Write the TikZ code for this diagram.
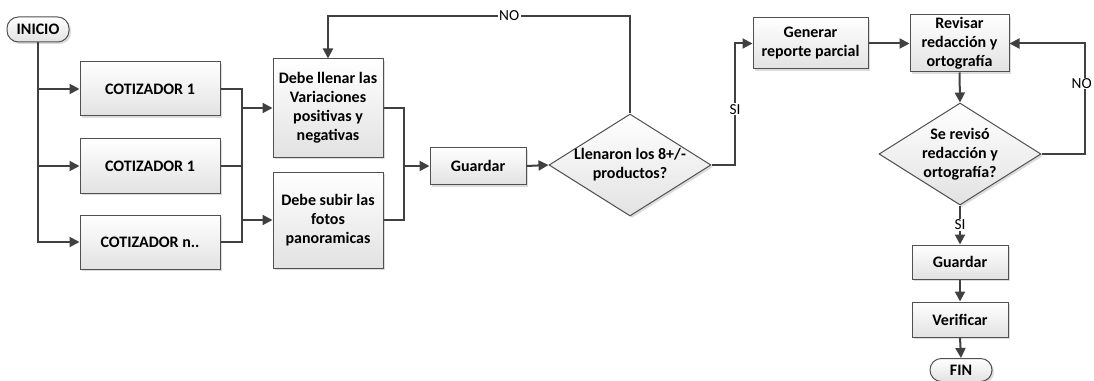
\documentclass[tikz,border=0pt]{standalone}
\usepackage{fontspec}
\setmainfont{Carlito}
\usetikzlibrary{shapes.geometric,arrows.meta,shadows}
\definecolor{linecol}{HTML}{404040}
\definecolor{bordercol}{HTML}{505050}
\definecolor{fillbot}{HTML}{E2E2E2}
\tikzset{
  boxbase/.style={draw=bordercol, line width=0.75pt, top color=white, bottom color=fillbot,
    drop shadow={shadow xshift=1.5pt, shadow yshift=-1.5pt, fill=black!30, opacity=0.45},
    inner sep=0pt, align=center, font=\bfseries\fontsize{12}{14.25}\selectfont, text=black},
  procbox/.style={boxbase, rectangle},
  termbox/.style={boxbase, rectangle, rounded corners=8.5pt},
  decbox/.style={boxbase, diamond, aspect=1.6, inner sep=-6pt},
  conn/.style={draw=linecol, line width=1.5pt},
  arr/.style={conn, -{Triangle[length=7.5pt, width=7.5pt]}},
  lbl/.style={fill=white, inner sep=1pt, font=\fontsize{11.5}{12}\selectfont, text=black},
}
\begin{document}
\begin{tikzpicture}[x=0.75pt, y=-0.75pt]
\useasboundingbox (0,0) rectangle (1094,381);

% nodes
\node[termbox, minimum width=46.5pt, minimum height=18.75pt] (inicio) at (38,29.5) {INICIO};
\node[procbox, minimum width=105pt, minimum height=40.5pt] (c1) at (150,89) {COTIZADOR 1};
\node[procbox, minimum width=105pt, minimum height=40.5pt] (c2) at (150,166) {COTIZADOR 1};
\node[procbox, minimum width=105pt, minimum height=40.5pt] (cn) at (150,242) {COTIZADOR n..};
\node[procbox, minimum width=82.5pt, minimum height=73.5pt] (llenar) at (328,108) {Debe llenar las\\Variaciones\\positivas y\\negativas};
\node[procbox, minimum width=82.5pt, minimum height=72pt] (subir) at (328,220) {Debe subir las\\fotos\\panoramicas};
\node[procbox, minimum width=72pt, minimum height=27.75pt] (g1) at (478,166) {Guardar};
\node[decbox, minimum width=121.5pt, minimum height=76.5pt] (d1) at (630,165) {Llenaron los 8+/-\\productos?};
\node[procbox, minimum width=86.25pt, minimum height=38.25pt] (gen) at (810.5,43.5) {Generar\\reporte parcial};
\node[procbox, minimum width=74.25pt, minimum height=42.75pt] (rev) at (959.5,43.5) {Revisar\\redacción y\\ortografía};
\node[decbox, minimum width=121.5pt, minimum height=76.5pt] (d2) at (960,154) {Se revisó\\redacción y\\ortografía?};
\node[procbox, minimum width=72pt, minimum height=25.5pt] (g2) at (960,262) {Guardar};
\node[procbox, minimum width=72pt, minimum height=26.25pt] (ver) at (960,319.5) {Verificar};
\node[termbox, minimum width=46.5pt, minimum height=17.25pt] (fin) at (961,370) {FIN};

% junction coordinates
\coordinate (jA) at (242,108);
\coordinate (jB) at (242,220);
\coordinate (jC) at (404,166);
\coordinate (ntop) at (328,16);
\coordinate (jS) at (735,43.5);
\coordinate (jN) at (1085,43.5);

% connectors
\draw[arr] (inicio.south) |- (c1.west);
\draw[arr] (inicio.south) |- (c2.west);
\draw[arr] (inicio.south) |- (cn.west);
\draw[conn] (c1.east) -| (jB);
\draw[conn] (c2.east) -| (jB);
\draw[conn] (cn.east) -| (jB);
\draw[arr] (jA) -- (llenar.west);
\draw[arr] (jB) -- (subir.west);
\draw[conn] (llenar.east) -| (jC);
\draw[conn] (subir.east) -| (jC);
\draw[arr] (jC) -- (g1.west);
\draw[arr] (g1.east) -- (d1.west);
\draw[arr] (d1.north) |- node[lbl, pos=0.7] {NO} (ntop) -- (llenar.north);
\draw[arr] (d1.east) -| node[lbl, pos=0.73] {SI} (jS) -- (gen.west);
\draw[arr] (gen.east) -- (rev.west);
\draw[arr] (rev.south) -- (d2.north);
\draw[arr] (d2.east) -| node[lbl, pos=0.82, xshift=-2.5pt, inner sep=0.5pt] {NO} (jN) -- (rev.east);
\draw[arr] (d2.south) -- node[lbl, pos=0.5] {SI} (g2.north);
\draw[arr] (g2.south) -- (ver.north);
\draw[arr] (ver.south) -- (fin.north);
\end{tikzpicture}
\end{document}
